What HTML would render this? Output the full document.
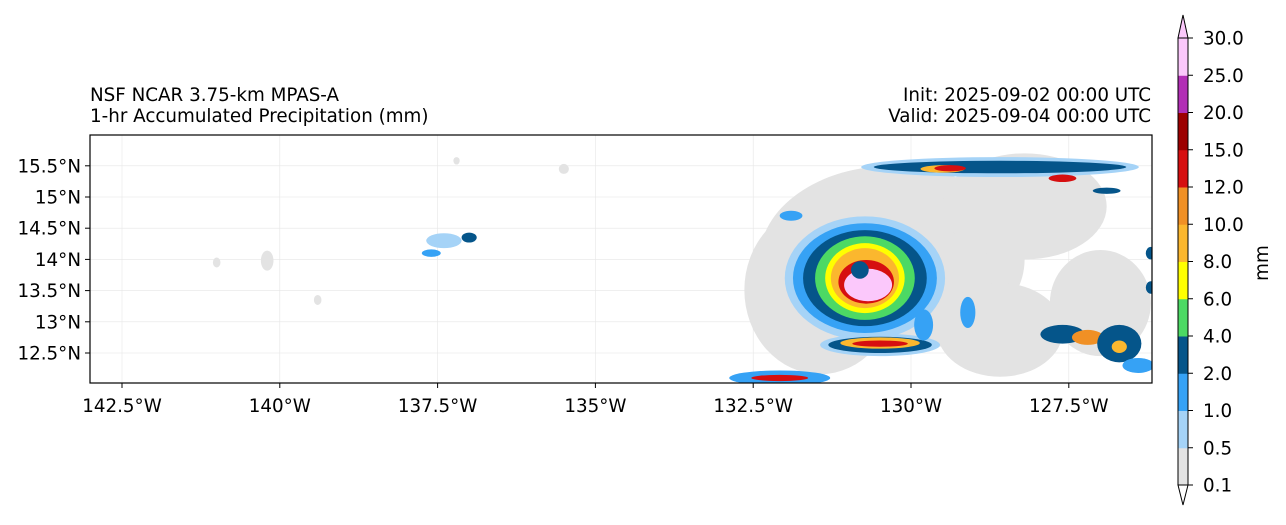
<!DOCTYPE html>
<html><head><meta charset="utf-8"><style>
body{margin:0;background:#fff;width:1286px;height:520px;overflow:hidden}
text{font-family:"DejaVu Sans","Liberation Sans",sans-serif;fill:#000}
</style></head><body>
<svg id="chart" width="1286" height="520" xmlns="http://www.w3.org/2000/svg">
<text x="90" y="101" font-size="18.3">NSF NCAR 3.75-km MPAS-A</text>
<text x="90" y="122" font-size="18.3">1-hr Accumulated Precipitation (mm)</text>
<text x="1151" y="101" font-size="18.3" text-anchor="end">Init: 2025-09-02 00:00 UTC</text>
<text x="1151" y="122" font-size="18.3" text-anchor="end">Valid: 2025-09-04 00:00 UTC</text>
<defs><clipPath id="mapclip"><rect x="90" y="135" width="1062" height="248"/></clipPath></defs>
<g id="grid"></g>
<g id="precip" clip-path="url(#mapclip)"></g>
<rect x="90" y="135" width="1062" height="248" fill="none" stroke="#000" stroke-width="1.2"/>
<g id="axes"></g>
<g id="cbar"></g>
<text transform="translate(1268,263) rotate(-90)" font-size="18.3" text-anchor="middle">mm</text>
</svg>
<script>
const lonTicks=[-142.5,-140,-137.5,-135,-132.5,-130,-127.5];
const lonLabels=["142.5°W","140°W","137.5°W","135°W","132.5°W","130°W","127.5°W"];
const latTicks=[12.5,13,13.5,14,14.5,15,15.5];
const latLabels=["12.5°N","13°N","13.5°N","14°N","14.5°N","15°N","15.5°N"];
const levels=[0.1,0.5,1,2,4,6,8,10,12,15,20,25,30];
const levelColors=["#e3e3e3","#a5d3f7","#36a2f5","#05558a","#4cd964","#ffff00","#fbb72e","#f09025","#d60f10","#9c0000","#b22fb5","#fbc8fb"];
// precipitation cells: lon, lat, rx(deg), ry(deg), level index
const blobLon=[-130.3,-131.44,-128.2,-128.59,-127.0,
 -128.59,-128.59,-129.5,-129.38,-127.6,-126.9,
 -130.73,-130.73,-130.73,-130.73,-130.73,-130.73,-130.71,-130.68,-130.81,
 -130.49,-130.49,-130.49,-130.49,-132.08,-132.08,
 -129.8,-129.1,-131.9,-127.6,-127.2,-126.7,-126.4,-126.7,-126.2,-126.2,
 -137.4,-137.0,-137.6,-140.2,-141.0,-139.4,-135.5,-137.2];
const blobLat=[14.0,13.51,14.85,12.87,13.3,
 15.48,15.48,15.45,15.46,15.3,15.1,
 13.7,13.7,13.7,13.7,13.7,13.7,13.64,13.59,13.83,
 12.63,12.63,12.66,12.65,12.1,12.1,
 12.95,13.15,14.7,12.8,12.75,12.65,12.3,12.6,14.1,13.55,
 14.3,14.35,14.1,13.98,13.95,13.35,15.45,15.58];
const blobRx=[2.1,1.2,1.3,1.0,0.8,
 2.2,2.0,0.35,0.25,0.22,0.22,
 1.27,1.14,0.98,0.79,0.63,0.54,0.44,0.38,0.14,
 0.95,0.82,0.63,0.44,0.8,0.45,
 0.15,0.12,0.18,0.35,0.25,0.35,0.25,0.12,0.08,0.08,
 0.28,0.12,0.15,0.1,0.06,0.06,0.08,0.05];
const blobRy=[1.5,1.35,0.85,0.75,0.85,
 0.16,0.1,0.06,0.05,0.06,0.05,
 0.99,0.88,0.77,0.67,0.56,0.48,0.35,0.26,0.14,
 0.18,0.13,0.09,0.05,0.12,0.05,
 0.25,0.25,0.08,0.15,0.12,0.3,0.12,0.1,0.1,0.1,
 0.12,0.08,0.06,0.16,0.08,0.08,0.08,0.06];
const blobLev=[0,0,0,0,0,
 1,3,6,8,8,3,
 1,2,3,4,5,6,8,11,3,
 1,3,6,8,2,8,
 2,2,2,3,7,3,2,6,3,3,
 1,3,2,0,0,0,0,0];
const W=document.getElementById.bind(document);
const NS="http://www.w3.org/2000/svg";
const xS=lon=>122+(lon+142.5)*(157.8/2.5);
const yS=lat=>353-(lat-12.5)*(31.2/0.5);
function mk(tag,at,parent){const e=document.createElementNS(NS,tag);for(const k in at)e.setAttribute(k,at[k]);parent.appendChild(e);return e;}
const grid=W("grid"),axes=W("axes"),pr=W("precip"),cb=W("cbar");
lonTicks.forEach((v,i)=>{const x=xS(v);
 const g=mk("line",{x1:x,x2:x,y1:135,y2:383,stroke:"#e6e6e6","stroke-width":0.6},grid);
 
 
 const t=mk("line",{x1:x,x2:x,y1:383,y2:388,stroke:"#000"},axes);
 
 
 const l=mk("text",{x:x,y:412,"font-size":18.3,"text-anchor":"middle"},axes);l.textContent=lonLabels[i];
 
 });
latTicks.forEach((v,i)=>{const y=yS(v);
 const g=mk("line",{x1:90,x2:1152,y1:y,y2:y,stroke:"#e6e6e6","stroke-width":0.6},grid);
 
 
 const t=mk("line",{x1:85,x2:90,y1:y,y2:y,stroke:"#000"},axes);
 
 
 const l=mk("text",{x:81,y:y+6.5,"font-size":18.3,"text-anchor":"end"},axes);l.textContent=latLabels[i];
 
 });
blobLon.forEach((v,i)=>{const rx=blobRx[i]*157.8/2.5,ry=blobRy[i]*31.2/0.5;
 const e=mk("ellipse",{cx:xS(v),cy:yS(blobLat[i]),rx:rx,ry:ry,fill:levelColors[blobLev[i]]},pr);
 
 });
const cTop=38,cBot=485,seg=(cBot-cTop)/(levels.length-1),cx0=1178,cw=10;
levelColors.forEach((c,i)=>{const y=cBot-(i+1)*seg;
 const r=mk("rect",{x:cx0,y:y,width:cw,height:seg+0.5,fill:c},cb);
 
 });
const up=mk("polygon",{points:`${cx0},${cTop} ${cx0+cw/2},15 ${cx0+cw},${cTop}`,fill:levelColors[11],stroke:"#000"},cb);


const dn=mk("polygon",{points:`${cx0},${cBot} ${cx0+cw/2},505 ${cx0+cw},${cBot}`,fill:"#fff",stroke:"#000"},cb);


const ol=mk("rect",{x:cx0,y:cTop,width:cw,height:cBot-cTop,fill:"none",stroke:"#000"},cb);


levels.forEach((v,i)=>{const y=cBot-i*seg;
 const t=mk("line",{x1:cx0+cw,x2:cx0+cw+5,y1:y,y2:y,stroke:"#000"},cb);
 
 
 const l=mk("text",{x:1203,y:y+6.5,"font-size":18.3},cb);l.textContent=v.toFixed(1);
 
 });
</script>
</body></html>
